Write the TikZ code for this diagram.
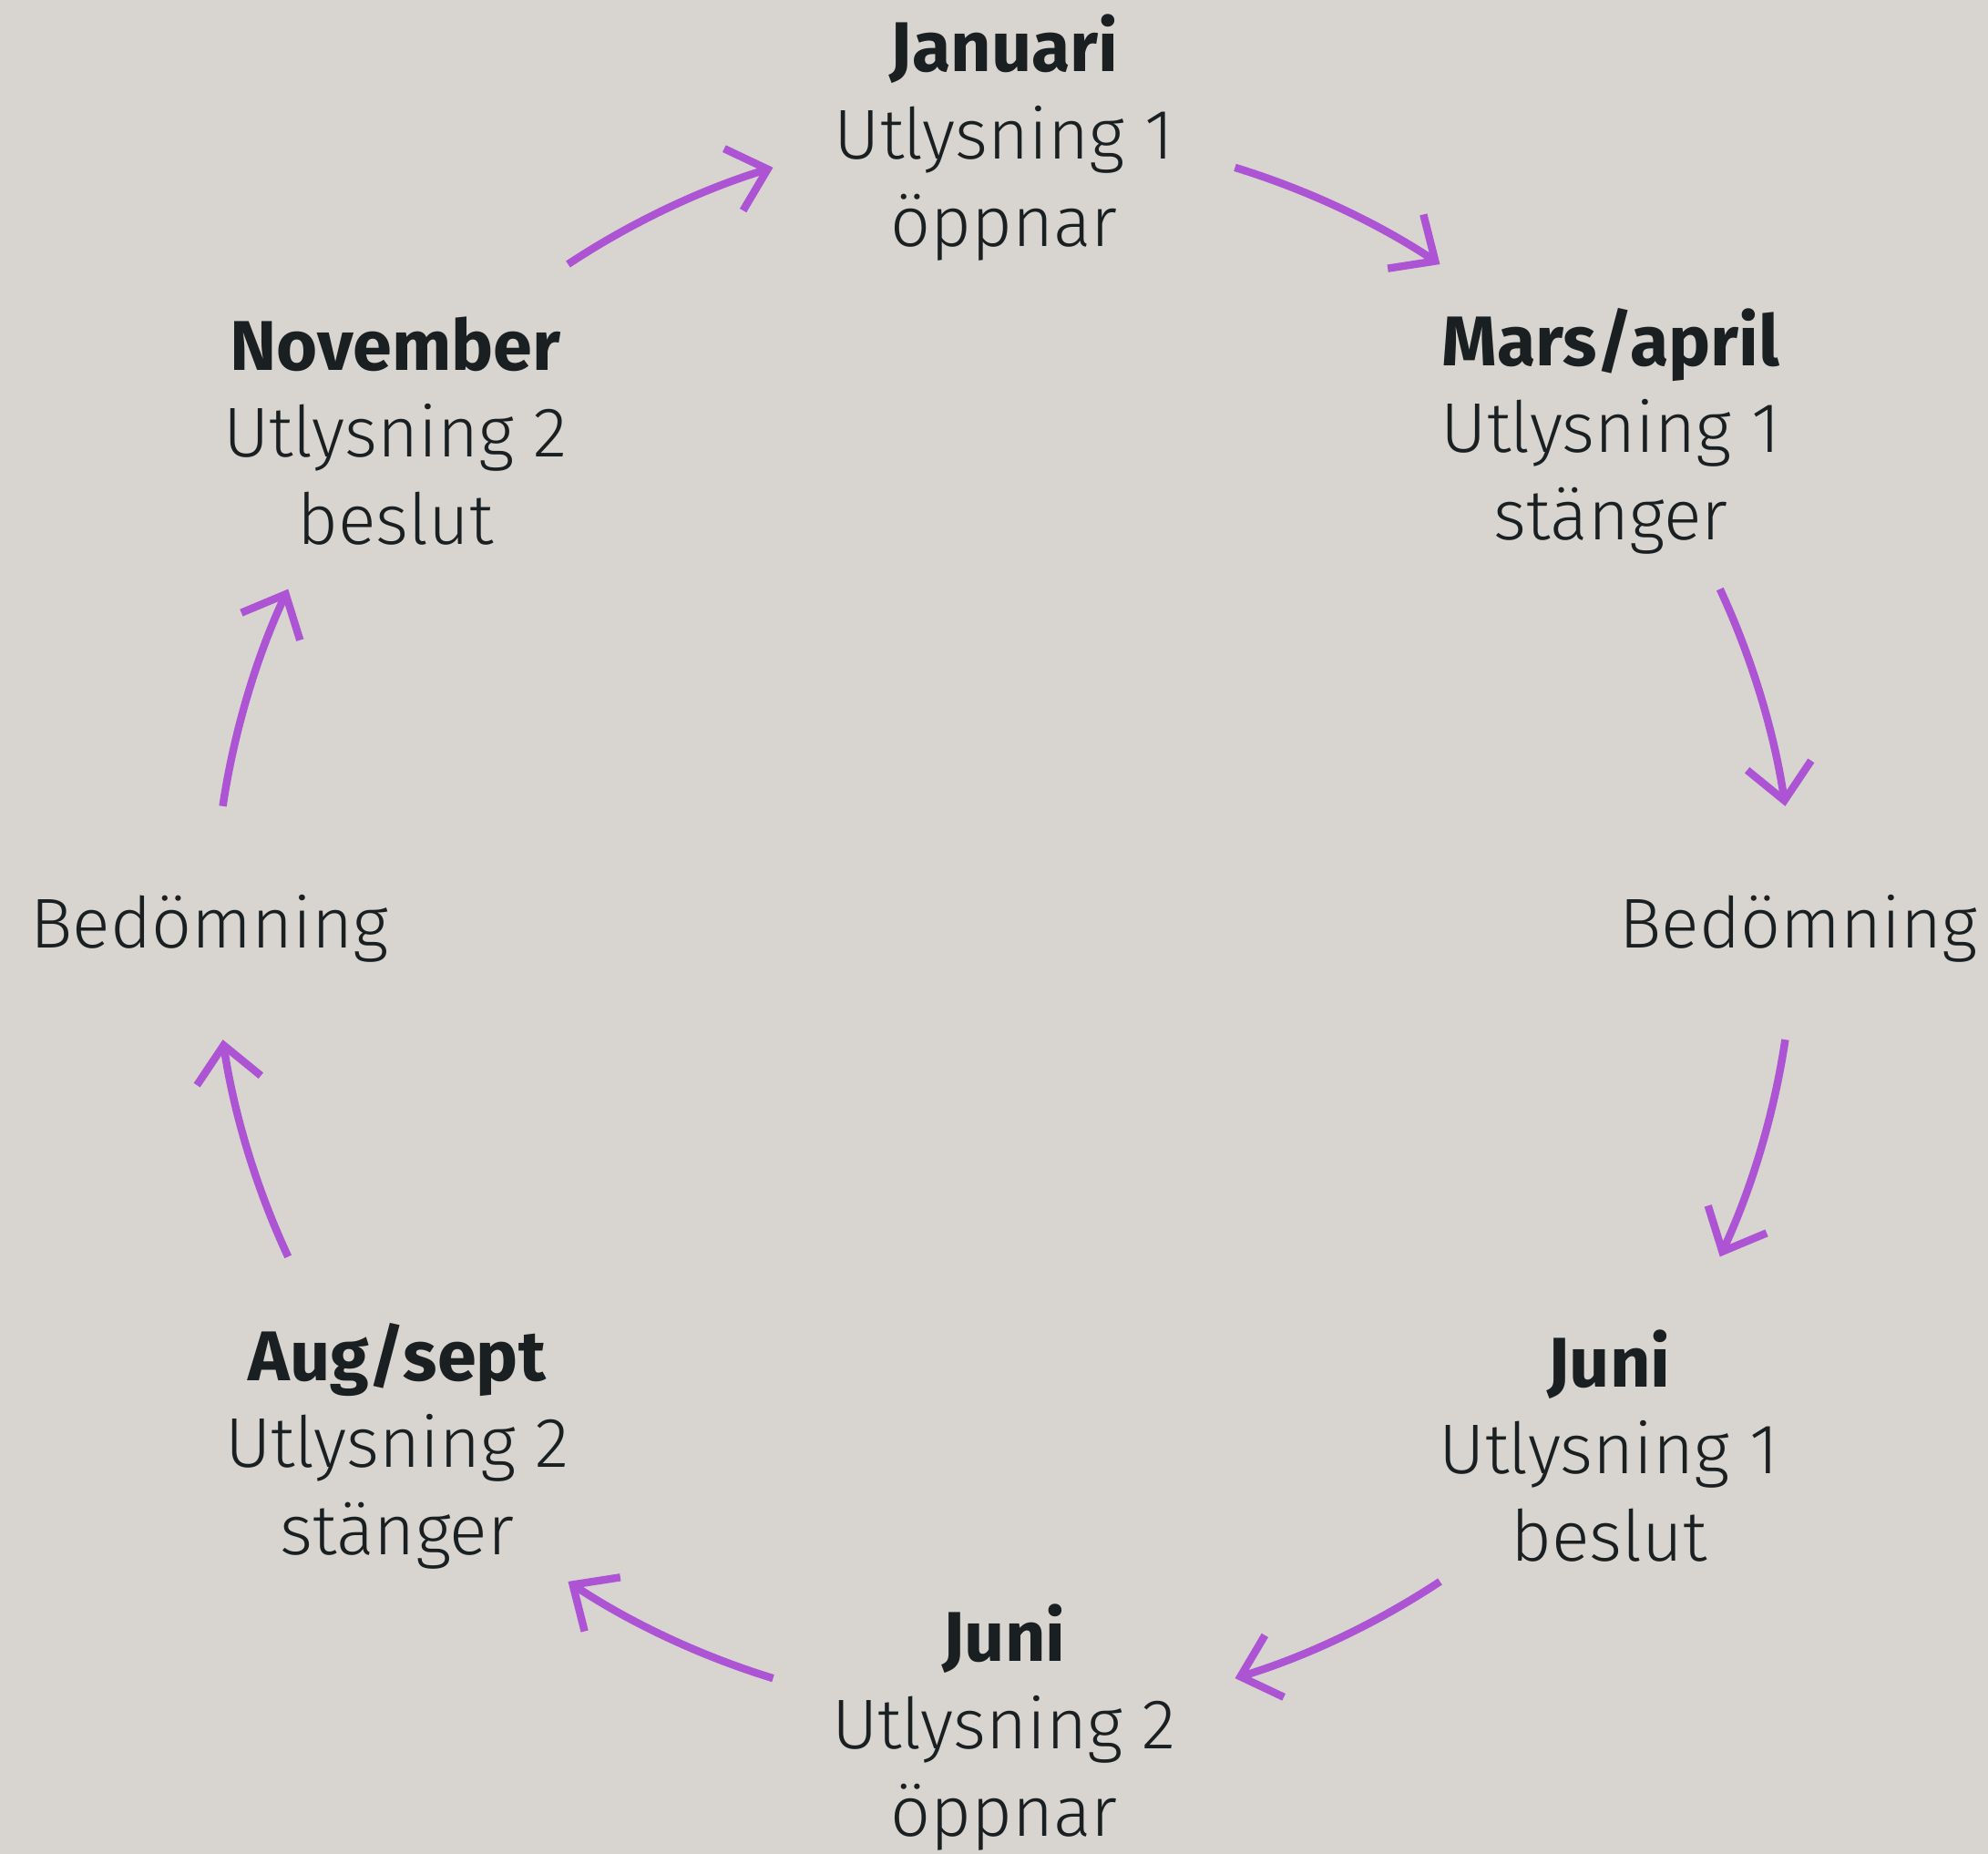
\documentclass[tikz,border=0pt]{standalone}
\usepackage{fontspec}
\setmainfont{Fira Sans Light}[BoldFont={Fira Sans Bold}]
\usetikzlibrary{arrows.meta}
\definecolor{bgcol}{RGB}{216,213,208}
\definecolor{arrcol}{RGB}{173,84,212}
\definecolor{txtcol}{RGB}{26,31,34}
\tikzset{
	flow/.style={draw=arrcol, line width=2.4pt, -{Straight Barb[length=3.9mm, width=7.1mm]}},
	lbl/.style={text=txtcol, align=center, inner sep=0pt, font=\fontsize{22}{27.2}\selectfont}
}

\begin{document}
\begin{tikzpicture}
	\fill[bgcol] (-11.02,10.13) rectangle (10.80,-10.22);
	\useasboundingbox (-11.02,10.13) rectangle (10.80,-10.22);
	\node[lbl] (jan) at (0,8.62) {\textbf{Januari}\\Utlysning 1\\öppnar};
	\node[lbl] (mar) at (6.66,5.40) {\textbf{Mars/april}\\Utlysning 1\\stänger};
	\node[lbl, anchor=base] (bedR) at (8.72,-0.27) {Bedömning};
	\node[lbl] (junR) at (6.64,-5.74) {\textbf{Juni}\\Utlysning 1\\beslut};
	\node[lbl] (junB) at (0,-8.83) {\textbf{Juni}\\Utlysning 2\\öppnar};
	\node[lbl] (aug) at (-6.66,-5.74) {\textbf{Aug/sept}\\Utlysning 2\\stänger};
	\node[lbl, anchor=base] (bedL) at (-8.72,-0.27) {Bedömning};
	\node[lbl] (nov) at (-6.68,5.40) {\textbf{November}\\Utlysning 2\\beslut};
	\coordinate (A1) at (73:8.67);
	\coordinate (B1) at (56.5:8.67);
	\coordinate (A2) at (25:8.67);
	\coordinate (B2) at (8.5:8.67);
	\coordinate (A3) at (-8.5:8.67);
	\coordinate (B3) at (-25:8.67);
	\coordinate (A4) at (-56.5:8.67);
	\coordinate (B4) at (-73:8.67);
	\coordinate (A5) at (-107:8.67);
	\coordinate (B5) at (-123.5:8.67);
	\coordinate (A6) at (-155:8.67);
	\coordinate (B6) at (-171.5:8.67);
	\coordinate (A7) at (171.5:8.67);
	\coordinate (B7) at (155:8.67);
	\coordinate (A8) at (123.5:8.67);
	\coordinate (B8) at (107:8.67);
	\draw[flow] (A1) to[bend left=8.25, looseness=0.85] (B1);
	\draw[flow] (A2) to[bend left=8.25, looseness=0.85] (B2);
	\draw[flow] (A3) to[bend left=8.25, looseness=0.85] (B3);
	\draw[flow] (A4) to[bend left=8.25, looseness=0.85] (B4);
	\draw[flow] (A5) to[bend left=8.25, looseness=0.85] (B5);
	\draw[flow] (A6) to[bend left=8.25, looseness=0.85] (B6);
	\draw[flow] (A7) to[bend left=8.25, looseness=0.85] (B7);
	\draw[flow] (A8) to[bend left=8.25, looseness=0.85] (B8);
\end{tikzpicture}
\end{document}
